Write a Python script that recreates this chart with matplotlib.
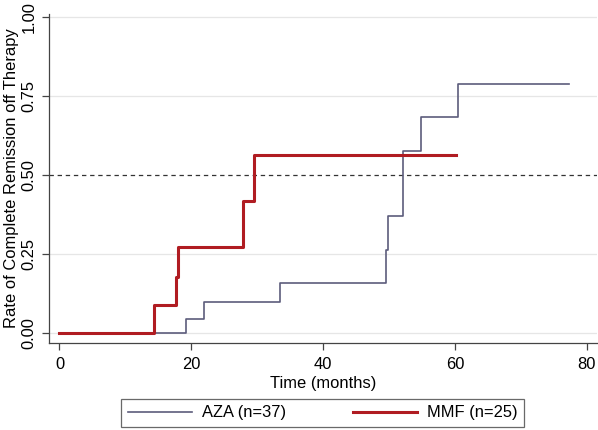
import matplotlib
matplotlib.use("Agg")
import matplotlib.pyplot as plt

plt.rcParams['font.family'] = ['Liberation Sans', 'DejaVu Sans']

# AZA (n=37): event times (months) and cumulative rate after each step
aza_times = [0, 19.2, 21.9, 33.5, 49.5, 49.9, 52.1, 54.9, 60.4, 77.3]
aza_rate = [0.0, 0.045, 0.097, 0.158, 0.262, 0.371, 0.577, 0.684, 0.789, 0.789]

# MMF (n=25)
mmf_times = [0, 14.3, 17.7, 18.0, 27.8, 29.5, 60.1]
mmf_rate = [0.0, 0.088, 0.178, 0.272, 0.418, 0.562, 0.562]

xticks = [0, 20, 40, 60, 80]
yticks = [0.0, 0.25, 0.5, 0.75, 1.0]
ytick_labels = ["0.00", "0.25", "0.50", "0.75", "1.00"]

aza_color = "#5c5c7c"
mmf_color = "#b01c22"
FS = 11.9

fig = plt.figure(figsize=(5.98, 4.30), dpi=100)
ax = fig.add_axes([49/598, 1-343/430, 548/598, (343-14)/430])

for yv in [0.0, 0.25, 0.75, 1.0]:
    ax.axhline(yv, color="#e6e6e6", lw=0.9, zorder=0)
ax.axhline(0.5, color="#333333", lw=0.9, ls=(0, (3.5, 3)), zorder=1)

ax.step(aza_times, aza_rate, where="post", color=aza_color, lw=1.2, label="AZA (n=37)", zorder=2)
ax.step(mmf_times, mmf_rate, where="post", color=mmf_color, lw=2.2, label="MMF (n=25)", zorder=3)

ax.set_xlim(-1.59, 81.56)
ax.set_ylim(-0.032, 1.0095)
ax.set_xticks(xticks)
ax.set_yticks(yticks)
ax.set_yticklabels(ytick_labels, rotation=90, va="center")
ax.tick_params(axis="both", direction="out", length=5, width=0.9, color="#444444",
               labelsize=FS)
ax.tick_params(axis="x", pad=5)
ax.tick_params(axis="y", pad=4)
for s in ["top", "right"]:
    ax.spines[s].set_visible(False)
for s in ["left", "bottom"]:
    ax.spines[s].set_color("#444444")
    ax.spines[s].set_linewidth(0.9)

ax.set_xlabel("Time (months)", fontsize=FS, labelpad=3)
ax.set_ylabel("Rate of Complete Remission off Therapy", fontsize=FS, labelpad=2)

h, l = ax.get_legend_handles_labels()
leg = fig.legend(h, l, loc="center", ncol=2, mode="expand",
                 bbox_to_anchor=(121/598, 1-427/430, 403/598, 28/430),
                 fancybox=False, frameon=True, edgecolor="#444444", fontsize=FS,
                 handlelength=3.9, handletextpad=0.6, borderaxespad=0, borderpad=0.4)
leg.get_frame().set_linewidth(0.9)

fig.savefig("out.png", dpi=100)
